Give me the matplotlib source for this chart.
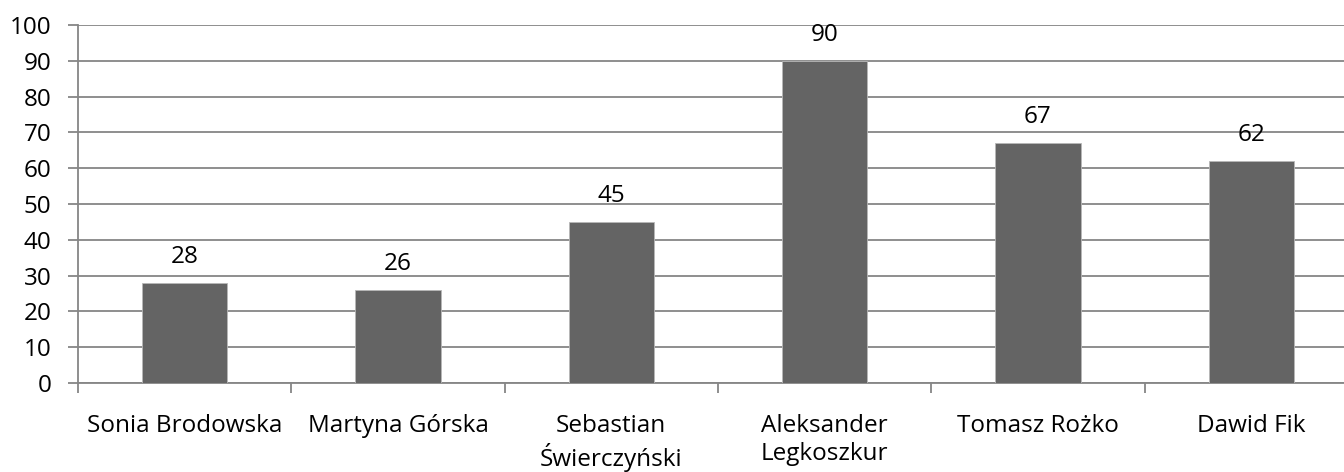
import numpy as np
import matplotlib
matplotlib.use("Agg")
from matplotlib import pyplot as plt
from matplotlib.ticker import FixedLocator

plt.rcParams['font.family'] = ['Open Sans', 'DejaVu Sans']

names = ['Sonia Brodowska', 'Martyna Górska', 'Sebastian\nŚwierczyński',
         'Aleksander\nLegkoszkur', 'Tomasz Rożko', 'Dawid Fik']
scores = [28, 26, 45, 90, 67, 62]

fs = 17.5

fig = plt.figure(figsize=(13.44, 4.72), dpi=100)
# plot area runs a little past the right edge of the picture
ax = fig.add_axes([78 / 1344, 1 - 383 / 472, 1280 / 1344, 358 / 472])

x = np.arange(len(names))
bars = ax.bar(x, scores, width=0.4, color='#646464', edgecolor='#b8b8b8',
              linewidth=0.6, zorder=3)

for xi, v in zip(x, scores):
    ax.annotate(str(v), (xi, v), xytext=(0, 10), textcoords='offset points',
                ha='center', va='bottom', fontsize=fs, color='#000000')

ax.set_xlim(-0.5, len(names) - 0.5)
ax.set_ylim(0, 100)
ax.set_yticks(np.arange(0, 101, 10))
ax.yaxis.grid(True, color='#868686', linewidth=1.3, zorder=0)
ax.set_axisbelow(True)

ax.set_xticks(x)
ax.set_xticklabels(names, fontsize=fs, linespacing=1.22)
ax.xaxis.set_minor_locator(FixedLocator(np.arange(-0.5, len(names), 1.0)))
ax.tick_params(axis='x', which='major', length=0, pad=22)
ax.tick_params(axis='x', which='minor', length=7.5, width=1.3, color='#868686')
ax.tick_params(axis='y', length=7, width=1.3, color='#868686', pad=12,
               labelsize=fs)

for s in ['top', 'right']:
    ax.spines[s].set_visible(False)
for s in ['left', 'bottom']:
    ax.spines[s].set_color('#868686')
    ax.spines[s].set_linewidth(1.3)

fig.savefig('out.png', dpi=100)
